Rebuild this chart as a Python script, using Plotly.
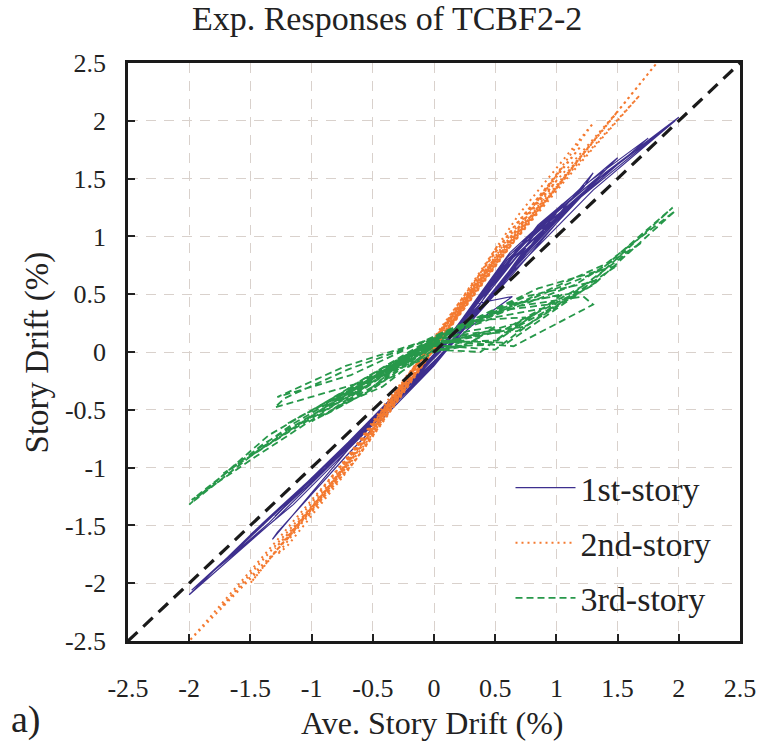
import plotly.graph_objects as go

# Axis ticks (shared by both axes)
tick_vals = [-2.5, -2.0, -1.5, -1.0, -0.5, 0.0, 0.5, 1.0, 1.5, 2.0, 2.5]
tick_text = ["-2.5", "-2", "-1.5", "-1", "-0.5", "0", "0.5", "1", "1.5", "2", "2.5"]

# 1st-story drift vs. average story drift (%)
story1_x = [
    0.00, 0.13, 0.25, 0.14, 0.00, -0.13, -0.25, -0.14, 0.00,
    0.19, 0.38, 0.22, 0.02, -0.19, -0.37, -0.20, 0.01,
    0.25, 0.50, 0.30, 0.03, -0.25, -0.50, -0.28, 0.00,
    0.30, 0.64, 0.35, 0.04, -0.30, -0.62, -0.33, 0.00,
    0.38, 0.75, 0.45, 0.05, -0.38, -0.75, -0.42, 0.00,
    0.45, 0.90, 0.50, 0.04, -0.45, -0.90, -0.50, 0.00,
    0.50, 1.00, 0.60, 0.08, -0.50, -1.00, -0.55, 0.00,
    0.52, 1.05, 0.62, 0.07, -0.52, -1.02, -0.58, 0.00,
    0.60, 1.20, 0.65, 0.05, -0.60, -1.20, -0.65, 0.00,
    0.65, 1.30, 1.22, 0.70, 0.08, -0.65, -1.32, -1.28, -0.70, 0.00,
    0.68, 1.35, 0.75, 0.06, -0.68, -1.30, -0.72, 0.00,
    0.75, 1.50, 0.85, 0.08, -0.75, -1.50, -0.80, 0.00,
    0.60, 1.15, 1.75, 1.20, 0.60, 0.04, -0.60, -1.20, -1.75, -1.15, -0.55, 0.00,
    0.60, 1.20, 2.00, 1.40, 0.70, 0.05, -0.70, -1.40, -2.00, -1.30, -0.60, 0.00,
    0.65, 1.30, 1.97, 1.35, 0.70, 0.05, -0.70, -1.35, -1.98, -1.35, -0.68, 0.00,
]
story1_y = [
    -0.10, 0.04, 0.25, 0.12, -0.04, -0.18, -0.32, -0.22, -0.09,
    0.13, 0.42, 0.24, -0.03, -0.27, -0.45, -0.29, -0.07,
    0.20, 0.62, 0.38, 0.00, -0.33, -0.58, -0.37, -0.08,
    0.22, 0.48, 0.42, 0.02, -0.38, -0.70, -0.45, -0.10,
    0.36, 0.90, 0.58, 0.04, -0.45, -0.85, -0.50, -0.10,
    0.52, 1.12, 0.66, 0.02, -0.55, -1.00, -0.62, -0.10,
    0.50, 1.20, 0.80, 0.06, -0.60, -1.12, -0.68, -0.12,
    0.55, 1.28, 0.86, 0.05, -0.62, -1.15, -0.70, -0.10,
    0.62, 1.36, 0.82, 0.00, -0.70, -1.30, -0.78, -0.12,
    0.72, 1.55, 1.42, 0.92, 0.05, -0.78, -1.62, -1.56, -0.88, -0.12,
    0.78, 1.52, 0.98, 0.04, -0.76, -1.42, -0.85, -0.11,
    0.88, 1.68, 1.10, 0.05, -0.85, -1.58, -0.92, -0.12,
    0.68, 1.30, 1.85, 1.42, 0.82, 0.00, -0.70, -1.30, -1.85, -1.32, -0.68, -0.10,
    0.66, 1.34, 2.03, 1.55, 0.90, 0.02, -0.80, -1.48, -2.10, -1.45, -0.72, -0.10,
    0.70, 1.40, 2.00, 1.50, 0.86, 0.03, -0.78, -1.45, -2.06, -1.48, -0.76, -0.08,
]

# 2nd-story drift vs. average story drift (%)
story2_x = [
    0.00, 0.12, 0.25, 0.13, 0.00, -0.12, -0.25, -0.12, 0.00,
    0.25, 0.50, 0.28, 0.02, -0.25, -0.50, -0.27, 0.00,
    0.26, 0.52, 0.30, 0.03, -0.26, -0.52, -0.29, 0.00,
    0.38, 0.75, 0.42, 0.04, -0.38, -0.75, -0.40, 0.00,
    0.45, 0.90, 0.50, 0.04, -0.45, -0.90, -0.50, 0.00,
    0.50, 1.00, 0.55, 0.05, -0.50, -1.00, -0.55, 0.00,
    0.52, 1.05, 0.58, 0.05, -0.52, -1.05, -0.58, 0.00,
    0.60, 1.20, 0.65, 0.05, -0.60, -1.20, -0.65, 0.00,
    0.65, 1.30, 0.70, 0.06, -0.65, -1.28, -1.20, -0.70, 0.00,
    0.65, 1.32, 0.75, 0.05, -0.65, -1.30, -0.72, 0.00,
    0.75, 1.50, 0.85, 0.06, -0.75, -1.50, -0.85, 0.00,
    0.55, 1.10, 1.68, 1.15, 0.60, 0.05, -0.60, -1.15, -1.75, -1.20, -0.60, 0.00,
    0.60, 1.20, 1.82, 1.25, 0.65, 0.05, -0.65, -1.30, -2.00, -1.35, -0.70, 0.00,
]
story2_y = [
    0.08, 0.22, 0.42, 0.26, 0.10, -0.10, -0.30, -0.16, 0.05,
    0.38, 0.82, 0.50, 0.12, -0.25, -0.62, -0.34, 0.06,
    0.44, 0.92, 0.55, 0.14, -0.30, -0.72, -0.40, 0.04,
    0.58, 1.15, 0.70, 0.15, -0.42, -0.98, -0.55, 0.05,
    0.70, 1.32, 0.80, 0.15, -0.58, -1.22, -0.70, 0.04,
    0.75, 1.48, 0.90, 0.16, -0.62, -1.30, -0.72, 0.04,
    0.82, 1.60, 0.98, 0.18, -0.72, -1.45, -0.85, 0.02,
    0.98, 1.78, 1.08, 0.20, -0.82, -1.62, -0.95, 0.03,
    1.02, 1.98, 1.20, 0.20, -0.90, -1.75, -1.68, -1.02, 0.02,
    0.95, 1.85, 1.12, 0.18, -0.95, -1.70, -1.00, 0.03,
    1.10, 2.08, 1.30, 0.20, -1.00, -2.00, -1.15, 0.02,
    0.82, 1.52, 2.22, 1.60, 0.92, 0.16, -0.78, -1.50, -2.22, -1.62, -0.85, 0.03,
    0.90, 1.69, 2.50, 1.75, 0.95, 0.18, -0.85, -1.65, -2.50, -1.80, -0.95, 0.02,
]

# 3rd-story drift vs. average story drift (%)
story3_x = [
    0.00, 0.12, 0.25, 0.12, 0.00, -0.12, -0.25, -0.12, 0.00,
    0.20, 0.40, 0.22, 0.02, -0.20, -0.40, -0.22, 0.00,
    0.25, 0.50, 0.28, 0.03, -0.25, -0.50, -0.28, 0.00,
    0.38, 0.75, 0.42, 0.04, -0.38, -0.75, -0.42, 0.00,
    0.45, 0.90, 0.50, 0.04, -0.45, -0.90, -0.50, 0.00,
    0.50, 1.00, 0.55, 0.05, -0.50, -1.00, -0.55, 0.00,
    0.52, 1.05, 0.60, 0.05, -0.52, -1.02, -0.58, 0.00,
    0.60, 1.20, 0.65, 0.05, -0.60, -1.20, -0.65, 0.00,
    0.65, 1.30, 1.22, 0.70, 0.05, -0.65, -1.30, -1.22, -0.70, 0.00,
    0.68, 1.35, 0.75, 0.05, -0.68, -1.28, -0.72, 0.00,
    0.75, 1.50, 0.85, 0.06, -0.75, -1.50, -0.85, 0.00,
    0.55, 1.10, 1.70, 1.15, 0.60, 0.05, -0.60, -1.15, -1.72, -1.20, -0.60, 0.00,
    0.65, 1.30, 1.95, 1.35, 0.70, 0.06, -0.70, -1.35, -2.00, -1.40, -0.75, 0.00,
    0.65, 1.30, 1.97, 1.40, 0.75, 0.05, -0.70, -1.40, -1.98, -1.45, -0.80, 0.00,
]
story3_y = [
    0.00, 0.04, 0.10, 0.08, 0.04, -0.02, -0.12, -0.08, 0.00,
    0.04, 0.14, 0.12, 0.08, -0.04, -0.18, -0.12, 0.02,
    0.05, 0.22, 0.18, 0.10, -0.08, -0.30, -0.18, 0.02,
    0.00, 0.30, 0.28, 0.14, -0.18, -0.45, -0.30, 0.05,
    0.06, 0.38, 0.30, 0.12, -0.22, -0.55, -0.32, 0.06,
    0.02, 0.42, 0.36, 0.15, -0.30, -0.60, -0.35, 0.08,
    0.10, 0.50, 0.40, 0.14, -0.20, -0.52, -0.28, 0.10,
    0.08, 0.52, 0.42, 0.14, -0.28, -0.62, -0.30, 0.10,
    0.05, 0.41, 0.48, 0.40, 0.16, -0.28, -0.48, -0.40, -0.15, 0.12,
    0.18, 0.62, 0.48, 0.16, -0.20, -0.39, -0.12, 0.12,
    0.22, 0.75, 0.55, 0.15, -0.38, -0.90, -0.45, 0.08,
    0.18, 0.48, 0.95, 0.58, 0.36, 0.14, -0.28, -0.62, -1.05, -0.70, -0.32, 0.06,
    0.24, 0.62, 1.25, 0.70, 0.42, 0.15, -0.32, -0.72, -1.32, -0.82, -0.40, 0.06,
    0.20, 0.58, 1.22, 0.76, 0.45, 0.12, -0.36, -0.80, -1.28, -0.90, -0.45, 0.05,
]

# 1:1 reference line
diag = [-2.5, 2.5]

FONT = "Liberation Serif"
PURPLE = "#3d2f8e"
ORANGE = "#f47a30"
GREEN = "#27984a"
TEXT = "#222222"

fig = go.Figure()

fig.add_trace(go.Scatter(
    x=story1_x, y=story1_y, mode="lines", name="1st-story",
    legendgroup="s1", line=dict(color=PURPLE, width=1.2),
))
fig.add_trace(go.Scatter(
    x=story2_x, y=story2_y, mode="lines", name="2nd-story",
    legendgroup="s2", line=dict(color=ORANGE, width=2.0, dash="2px,4px"),
))
fig.add_trace(go.Scatter(
    x=story3_x, y=story3_y, mode="lines", name="3rd-story",
    legendgroup="s3", line=dict(color=GREEN, width=1.8, dash="7px,4px"),
))
fig.add_trace(go.Scatter(
    x=diag, y=diag, mode="lines", showlegend=False,
    line=dict(color="#1a1a1a", width=3.2, dash="13px,8px"),
))

axis_common = dict(
    range=[-2.5, 2.5],
    tickvals=tick_vals,
    ticktext=tick_text,
    ticks="inside",
    ticklen=7,
    tickwidth=1.5,
    tickcolor=TEXT,
    showline=True,
    linecolor="#1a1a1a",
    linewidth=2.5,
    mirror=True,
    showgrid=True,
    gridcolor="#d9d1cc",
    gridwidth=1.2,
    griddash="10px,8px",
    zeroline=False,
    tickfont=dict(family=FONT, size=26, color=TEXT),
)

fig.update_xaxes(**axis_common, ticklabelstandoff=22)
fig.update_yaxes(**axis_common, ticklabelstandoff=14)

fig.update_layout(
    width=768,
    height=749,
    margin=dict(l=128, r=21, t=63, b=108),
    paper_bgcolor="white",
    plot_bgcolor="white",
    font=dict(family=FONT, color=TEXT),
    title=dict(
        text="Exp. Responses of TCBF2-2",
        font=dict(family=FONT, size=34, color=TEXT),
        xref="container", x=0.504, xanchor="center",
        yref="container", y=0.976, yanchor="middle",
    ),
    legend=dict(
        x=0.625, y=0.315, xanchor="left", yanchor="top",
        bgcolor="rgba(0,0,0,0)",
        font=dict(family=FONT, size=34, color=TEXT),
        itemwidth=60,
        tracegroupgap=8,
    ),
    annotations=[
        dict(text="Ave. Story Drift (%)", xref="paper", yref="paper",
             x=0.497, y=-0.142, xanchor="center", yanchor="middle",
             showarrow=False, font=dict(family=FONT, size=32, color=TEXT)),
        dict(text="Story Drift (%)", xref="paper", yref="paper",
             x=-0.148, y=0.5, xanchor="center", yanchor="middle", textangle=-90,
             showarrow=False, font=dict(family=FONT, size=33, color=TEXT)),
        dict(text="a)", xref="paper", yref="paper",
             x=-0.166, y=-0.135, xanchor="center", yanchor="middle",
             showarrow=False, font=dict(family=FONT, size=38, color=TEXT)),
    ],
)

fig.write_html("out.html")
